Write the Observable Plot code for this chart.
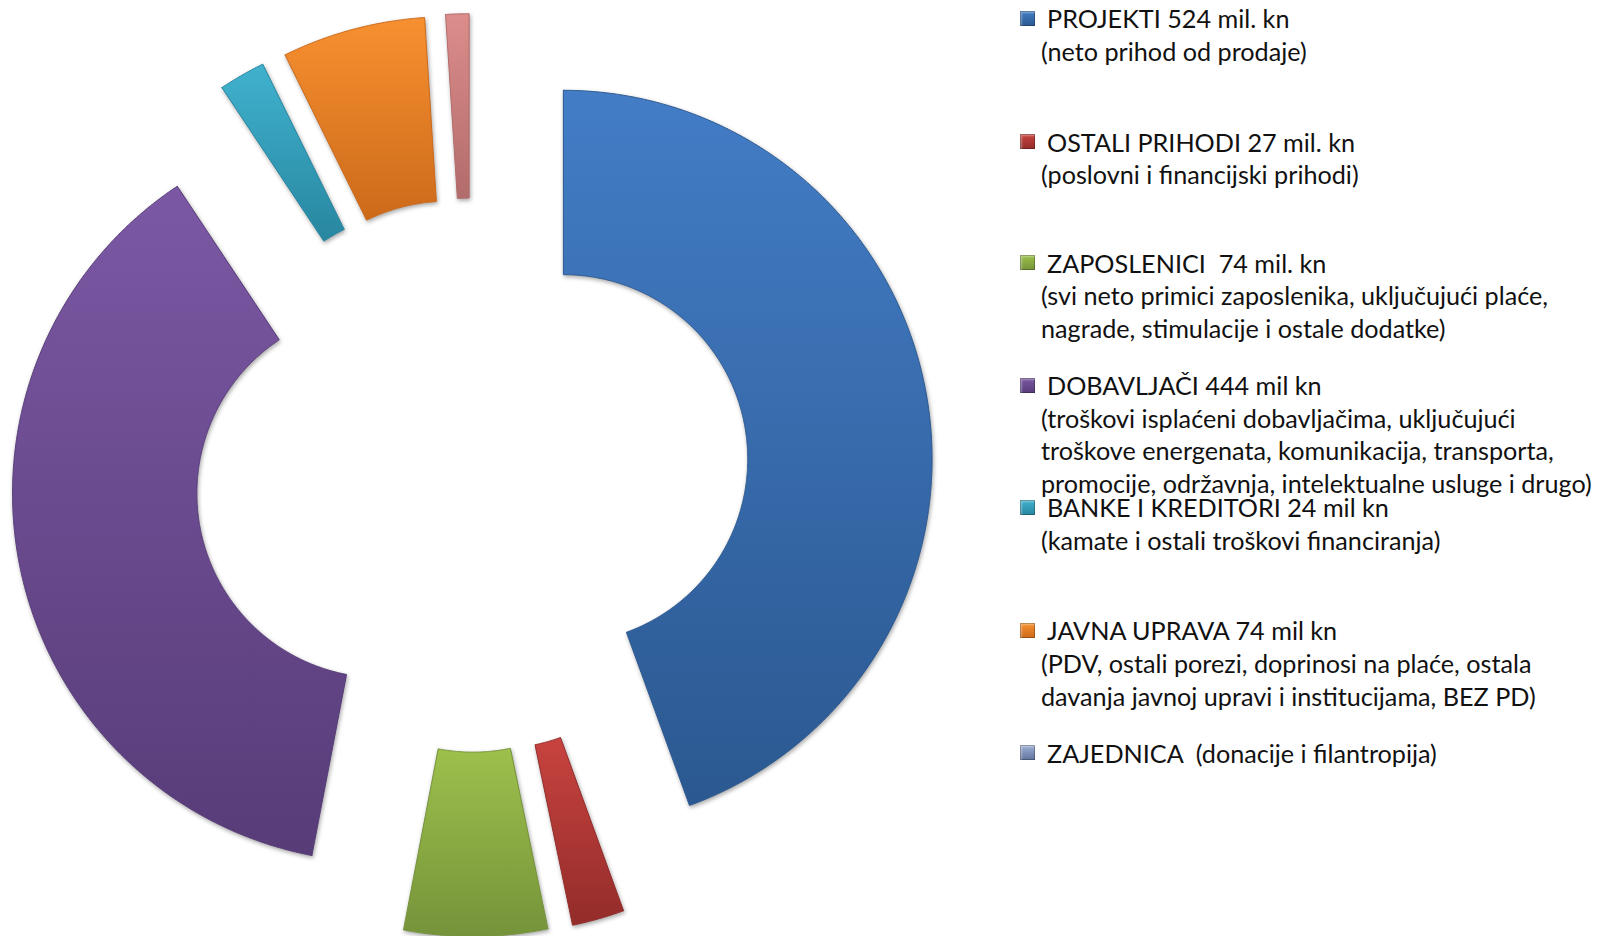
<!DOCTYPE html>
<html>
<head>
<meta charset="utf-8">
<script src="https://cdn.jsdelivr.net/npm/d3@7"></script>
<script src="https://cdn.jsdelivr.net/npm/@observablehq/plot@0.6"></script>
<style>
  body { margin: 0; background: #fff; }
  #wrap { position: relative; width: 1597px; height: 936px; overflow: hidden; }
  #chart { position: absolute; left: 0; top: 0; }
  #chart svg path { filter: drop-shadow(1px 2px 2px rgba(0,0,0,0.35)); }
  .lg { position: absolute; font-family: Lato, "Open Sans", sans-serif; font-size: 25.2px; color: #111; white-space: pre; line-height: 24px; }
  .mk { position: absolute; width: 15px; height: 15px; box-shadow: inset 0 0 0 1px rgba(0,0,0,0.25), inset 2px 2px 2px rgba(255,255,255,0.35); }
</style>
</head>
<body>
<svg width="0" height="0" style="position:absolute">
  <defs id="defs"></defs>
</svg>
<div id="wrap">
  <div id="chart"></div>
  <div id="legend"></div>
</div>
<script>
// ---- data ----
const categories = ["PROJEKTI", "OSTALI PRIHODI", "ZAPOSLENICI", "DOBAVLJAČI", "BANKE I KREDITORI", "JAVNA UPRAVA", "ZAJEDNICA"];
const values = [524, 27, 74, 444, 24, 74, 12];
const legendTitles = [
  "PROJEKTI 524 mil. kn",
  "OSTALI PRIHODI 27 mil. kn",
  "ZAPOSLENICI  74 mil. kn",
  "DOBAVLJAČI 444 mil kn",
  "BANKE I KREDITORI 24 mil kn",
  "JAVNA UPRAVA 74 mil kn",
  "ZAJEDNICA  (donacije i filantropija)"
];
const legendNotes = [
  ["(neto prihod od prodaje)"],
  ["(poslovni i financijski prihodi)"],
  ["(svi neto primici zaposlenika, uključujući plaće,", "nagrade, stimulacije i ostale dodatke)"],
  ["(troškovi isplaćeni dobavljačima, uključujući", "troškove energenata, komunikacija, transporta,", "promocije, održavnja, intelektualne usluge i drugo)"],
  ["(kamate i ostali troškovi financiranja)"],
  ["(PDV, ostali porezi, doprinosi na plaće, ostala", "davanja javnoj upravi i institucijama, BEZ PD)"],
  []
];
const colorsTop = ["#437dc6", "#c8433f", "#9dc04c", "#7c58a4", "#40b2ce", "#f79030", "#dc8d8b"];
const colorsBottom = ["#2b5890", "#932c2a", "#75933a", "#573c78", "#2886a0", "#cc6a1a", "#b26c6b"];
const legendTop = ["#437dc6", "#c8433f", "#9dc04c", "#7c58a4", "#40b2ce", "#f79030", "#9fb1d6"];
const legendBottom = ["#2b5890", "#932c2a", "#75933a", "#573c78", "#2886a0", "#cc6a1a", "#5f739c"];

// ---- layout constants ----
const W = 1597, H = 936;
const centerPx = [471.6, 474.6], pxPerUnit = 368.7;
const innerR = 0.5, outerR = 1, explode = 0.2514;

// gradients
const defs = document.getElementById("defs");
colorsTop.forEach((c, i) => {
  defs.insertAdjacentHTML("beforeend",
    `<linearGradient id="g${i}" x1="0" y1="0" x2="0" y2="1">
       <stop offset="0" stop-color="${c}"/>
       <stop offset="1" stop-color="${colorsBottom[i]}"/>
     </linearGradient>`);
});

// build slice outlines (unit space, y up)
const total = d3.sum(values);
let acc = 0;
const slices = values.map((v, i) => {
  const a0 = acc / total * 2 * Math.PI; acc += v;
  const a1 = acc / total * 2 * Math.PI;
  const am = (a0 + a1) / 2;
  const ox = explode * Math.sin(am), oy = explode * Math.cos(am);
  const n = Math.max(2, Math.ceil((a1 - a0) / 0.005));
  const pts = [];
  for (let k = 0; k <= n; k++) { const a = a0 + (a1 - a0) * k / n; pts.push({k: categories[i], x: ox + outerR * Math.sin(a), y: oy + outerR * Math.cos(a)}); }
  for (let k = n; k >= 0; k--) { const a = a0 + (a1 - a0) * k / n; pts.push({k: categories[i], x: ox + innerR * Math.sin(a), y: oy + innerR * Math.cos(a)}); }
  pts.push({...pts[0]});
  return pts;
});

const xDom = [-centerPx[0] / pxPerUnit, (W - centerPx[0]) / pxPerUnit];
const yDom = [centerPx[1] / pxPerUnit, (centerPx[1] - H) / pxPerUnit];

const chart = Plot.plot({
  width: W, height: H, margin: 0,
  x: {domain: xDom, range: [0, W], axis: null},
  y: {domain: yDom, range: [0, H], axis: null},
  marks: slices.map((pts, i) => Plot.line(pts, {
    x: "x", y: "y", curve: "linear",
    fill: `url(#g${i})`, stroke: colorsBottom[i], strokeWidth: 1, strokeLinejoin: "round"
  }))
});
document.getElementById("chart").appendChild(chart);

// legend (HTML)
const legend = document.getElementById("legend");
const titleY = [18.3, 141.6, 262.8, 385, 507.2, 630.4, 752.7];
const lineStep = 32.6;
categories.forEach((c, i) => {
  const mk = document.createElement("div");
  mk.className = "mk";
  mk.style.left = "1020px";
  mk.style.top = (titleY[i] - 7.5) + "px";
  mk.style.background = `linear-gradient(${legendTop[i]}, ${legendBottom[i]})`;
  legend.appendChild(mk);
  const t = document.createElement("div");
  t.className = "lg";
  t.style.left = "1047px";
  t.style.top = (titleY[i] - 12) + "px";
  t.textContent = legendTitles[i];
  legend.appendChild(t);
  legendNotes[i].forEach((s, j) => {
    const d = document.createElement("div");
    d.className = "lg";
    d.style.left = "1041px";
    d.style.top = (titleY[i] + lineStep * (j + 1) - 12) + "px";
    d.textContent = s;
    legend.appendChild(d);
  });
});
</script>
</body>
</html>
